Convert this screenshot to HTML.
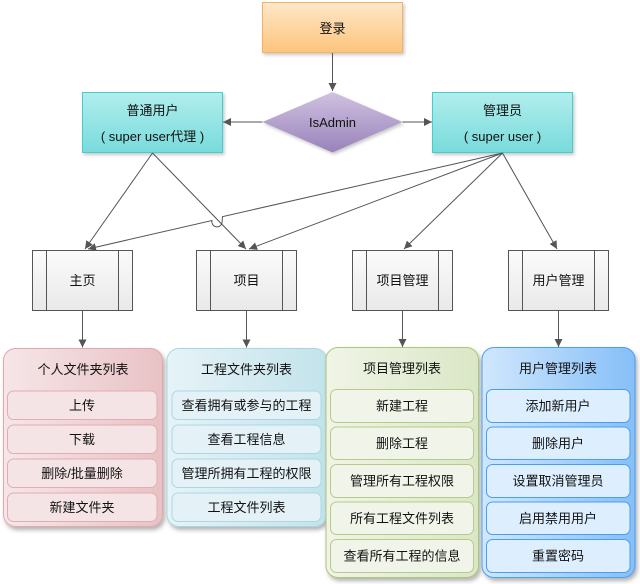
<!DOCTYPE html>
<html><head><meta charset="utf-8">
<style>
html,body{margin:0;padding:0;background:#fff;}
svg{display:block;}
text{font-family:"Liberation Sans","Noto Sans CJK SC",sans-serif;font-size:13px;fill:#111;}
</style></head>
<body>
<svg width="640" height="584" viewBox="0 0 640 584" xmlns="http://www.w3.org/2000/svg">
<defs>
  <linearGradient id="gLogin" x1="0" y1="0" x2="0" y2="1"><stop offset="0" stop-color="#fee7c9"/><stop offset="1" stop-color="#fdc47c"/></linearGradient>
  <linearGradient id="gCyan" x1="0" y1="0" x2="0" y2="1"><stop offset="0" stop-color="#b2eded"/><stop offset="1" stop-color="#78dbdb"/></linearGradient>
  <linearGradient id="gDia" x1="0" y1="0" x2="0" y2="1"><stop offset="0" stop-color="#d0c2e0"/><stop offset="1" stop-color="#9882ba"/></linearGradient>
  <linearGradient id="gProc" x1="0" y1="0" x2="0" y2="1"><stop offset="0" stop-color="#fbfbfb"/><stop offset="1" stop-color="#e9e9e9"/></linearGradient>
  <linearGradient id="gPink" x1="0" y1="0" x2="1" y2="0"><stop offset="0" stop-color="#f6e6e8"/><stop offset="1" stop-color="#e8c2c5"/></linearGradient>
  <linearGradient id="gLBlue" x1="0" y1="0" x2="1" y2="0"><stop offset="0" stop-color="#e6f3f7"/><stop offset="1" stop-color="#c3e3eb"/></linearGradient>
  <linearGradient id="gGreen" x1="0" y1="0" x2="1" y2="0"><stop offset="0" stop-color="#f0f4e6"/><stop offset="1" stop-color="#dae7c6"/></linearGradient>
  <linearGradient id="gBlue" x1="0" y1="0" x2="1" y2="0"><stop offset="0" stop-color="#d0e7fd"/><stop offset="1" stop-color="#86bff8"/></linearGradient>
  <filter id="sh" x="-10%" y="-10%" width="130%" height="130%">
    <feDropShadow dx="2" dy="3" stdDeviation="2" flood-color="#000" flood-opacity="0.3"/>
  </filter>
  <filter id="sh2" x="-10%" y="-10%" width="130%" height="130%">
    <feDropShadow dx="1.5" dy="2" stdDeviation="1.5" flood-color="#000" flood-opacity="0.22"/>
  </filter>
  <marker id="ar" markerWidth="9" markerHeight="9" refX="8" refY="4" orient="auto" markerUnits="userSpaceOnUse">
    <path d="M0,0 L8,4 L0,8 z" fill="#555"/>
  </marker>
</defs>

<!-- top shapes -->
<rect x="262.5" y="2.5" width="140" height="50" fill="url(#gLogin)" stroke="#f2b463" filter="url(#sh2)"/>
<text x="332.5" y="33" text-anchor="middle">登录</text>

<polygon points="332.5,92 402.5,122 332.5,152.5 262.5,122" fill="url(#gDia)" filter="url(#sh2)"/>
<text x="332.5" y="127" text-anchor="middle">IsAdmin</text>

<rect x="82.5" y="92.5" width="140" height="60" fill="url(#gCyan)" stroke="#45cdcd" filter="url(#sh2)"/>
<text x="152.5" y="115" text-anchor="middle">普通用户</text>
<text x="152.5" y="141" text-anchor="middle">( super user代理 )</text>

<rect x="432.5" y="92.5" width="140" height="60" fill="url(#gCyan)" stroke="#45cdcd" filter="url(#sh2)"/>
<text x="502.5" y="115" text-anchor="middle">管理员</text>
<text x="502.5" y="141" text-anchor="middle">( super user )</text>

<!-- connectors top -->
<g stroke="#555" stroke-width="1" fill="none">
  <line x1="332.5" y1="53" x2="332.5" y2="91" marker-end="url(#ar)"/>
  <line x1="262.5" y1="122" x2="223" y2="122" marker-end="url(#ar)"/>
  <line x1="402.5" y1="122" x2="432" y2="122" marker-end="url(#ar)"/>
  <line x1="152.5" y1="153" x2="85" y2="249" marker-end="url(#ar)"/>
  <line x1="152.5" y1="153" x2="246" y2="249" marker-end="url(#ar)"/>
  <path d="M502.5,153 L222.5,216.6 L222,223 A5,5 0 0 1 212,220.5 L88,249" marker-end="url(#ar)"/>
  <line x1="502.5" y1="153" x2="249" y2="249" marker-end="url(#ar)"/>
  <line x1="502.5" y1="153" x2="404" y2="249" marker-end="url(#ar)"/>
  <line x1="502.5" y1="153" x2="557" y2="249" marker-end="url(#ar)"/>
  <line x1="82.5" y1="310" x2="82.5" y2="347.5" marker-end="url(#ar)"/>
  <line x1="246.5" y1="310" x2="246.5" y2="347.5" marker-end="url(#ar)"/>
  <line x1="402.5" y1="310" x2="402.5" y2="347" marker-end="url(#ar)"/>
  <line x1="558.5" y1="310" x2="558.5" y2="347" marker-end="url(#ar)"/>
</g>

<!-- process boxes -->
<g stroke="#555" stroke-width="1" fill="url(#gProc)">
  <rect x="32.5" y="250.5" width="100" height="60"/>
  <rect x="196.5" y="250.5" width="100" height="60"/>
  <rect x="352.5" y="250.5" width="100" height="60"/>
  <rect x="508.5" y="250.5" width="100" height="60"/>
  <line x1="46.5" y1="250.5" x2="46.5" y2="310.5"/><line x1="118.5" y1="250.5" x2="118.5" y2="310.5"/>
  <line x1="210.5" y1="250.5" x2="210.5" y2="310.5"/><line x1="282.5" y1="250.5" x2="282.5" y2="310.5"/>
  <line x1="366.5" y1="250.5" x2="366.5" y2="310.5"/><line x1="438.5" y1="250.5" x2="438.5" y2="310.5"/>
  <line x1="522.5" y1="250.5" x2="522.5" y2="310.5"/><line x1="594.5" y1="250.5" x2="594.5" y2="310.5"/>
</g>
<text x="82.5" y="285" text-anchor="middle">主页</text>
<text x="246.5" y="285" text-anchor="middle">项目</text>
<text x="402.5" y="285" text-anchor="middle">项目管理</text>
<text x="558.5" y="285" text-anchor="middle">用户管理</text>

<!-- pink container -->
<rect x="3.5" y="348.5" width="159" height="178" rx="12" fill="url(#gPink)" stroke="#e0a9ad" filter="url(#sh)"/>
<text x="83" y="374" text-anchor="middle">个人文件夹列表</text>
<g fill="#f5e4e6" stroke="#e2adb1">
  <rect x="7.5" y="391" width="149.5" height="28.5" rx="6"/>
  <rect x="7.5" y="425" width="149.5" height="28.5" rx="6"/>
  <rect x="7.5" y="459" width="149.5" height="28.5" rx="6"/>
  <rect x="7.5" y="493" width="149.5" height="28.5" rx="6"/>
</g>
<text x="82" y="410" text-anchor="middle">上传</text>
<text x="82" y="444" text-anchor="middle">下载</text>
<text x="82" y="478" text-anchor="middle">删除/批量删除</text>
<text x="82" y="512" text-anchor="middle">新建文件夹</text>

<!-- light blue container -->
<rect x="167" y="348.5" width="159.5" height="178" rx="12" fill="url(#gLBlue)" stroke="#a7d7e3" filter="url(#sh)"/>
<text x="246.5" y="374" text-anchor="middle">工程文件夹列表</text>
<g fill="#e4f2f7" stroke="#a9d8e4">
  <rect x="172" y="391" width="149" height="28.5" rx="6"/>
  <rect x="172" y="425" width="149" height="28.5" rx="6"/>
  <rect x="172" y="459" width="149" height="28.5" rx="6"/>
  <rect x="172" y="493" width="149" height="28.5" rx="6"/>
</g>
<text x="246.5" y="410" text-anchor="middle">查看拥有或参与的工程</text>
<text x="246.5" y="444" text-anchor="middle">查看工程信息</text>
<text x="246.5" y="478" text-anchor="middle">管理所拥有工程的权限</text>
<text x="246.5" y="512" text-anchor="middle">工程文件列表</text>

<!-- green container -->
<rect x="326" y="347.5" width="152.5" height="230" rx="12" fill="url(#gGreen)" stroke="#adc67c" filter="url(#sh)"/>
<text x="402" y="373" text-anchor="middle">项目管理列表</text>
<g fill="#f1f5e9" stroke="#b6cb8a">
  <rect x="330.5" y="389.5" width="143" height="33" rx="6"/>
  <rect x="330.5" y="427" width="143" height="32.5" rx="6"/>
  <rect x="330.5" y="464.5" width="143" height="33" rx="6"/>
  <rect x="330.5" y="502" width="143" height="32.5" rx="6"/>
  <rect x="330.5" y="539.5" width="143" height="33" rx="6"/>
</g>
<text x="402" y="410.5" text-anchor="middle">新建工程</text>
<text x="402" y="448" text-anchor="middle">删除工程</text>
<text x="402" y="485.5" text-anchor="middle">管理所有工程权限</text>
<text x="402" y="523" text-anchor="middle">所有工程文件列表</text>
<text x="402" y="560.5" text-anchor="middle">查看所有工程的信息</text>

<!-- blue container -->
<rect x="482" y="347.5" width="153" height="230" rx="12" fill="url(#gBlue)" stroke="#4c9ff0" filter="url(#sh)"/>
<text x="558" y="373" text-anchor="middle">用户管理列表</text>
<g fill="#ddeefe" stroke="#4a9ef0">
  <rect x="486.5" y="389.5" width="143.5" height="33" rx="6"/>
  <rect x="486.5" y="427" width="143.5" height="32.5" rx="6"/>
  <rect x="486.5" y="464.5" width="143.5" height="33" rx="6"/>
  <rect x="486.5" y="502" width="143.5" height="32.5" rx="6"/>
  <rect x="486.5" y="539.5" width="143.5" height="33" rx="6"/>
</g>
<text x="558" y="410.5" text-anchor="middle">添加新用户</text>
<text x="558" y="448" text-anchor="middle">删除用户</text>
<text x="558" y="485.5" text-anchor="middle">设置取消管理员</text>
<text x="558" y="523" text-anchor="middle">启用禁用用户</text>
<text x="558" y="560.5" text-anchor="middle">重置密码</text>
</svg>
</body></html>
